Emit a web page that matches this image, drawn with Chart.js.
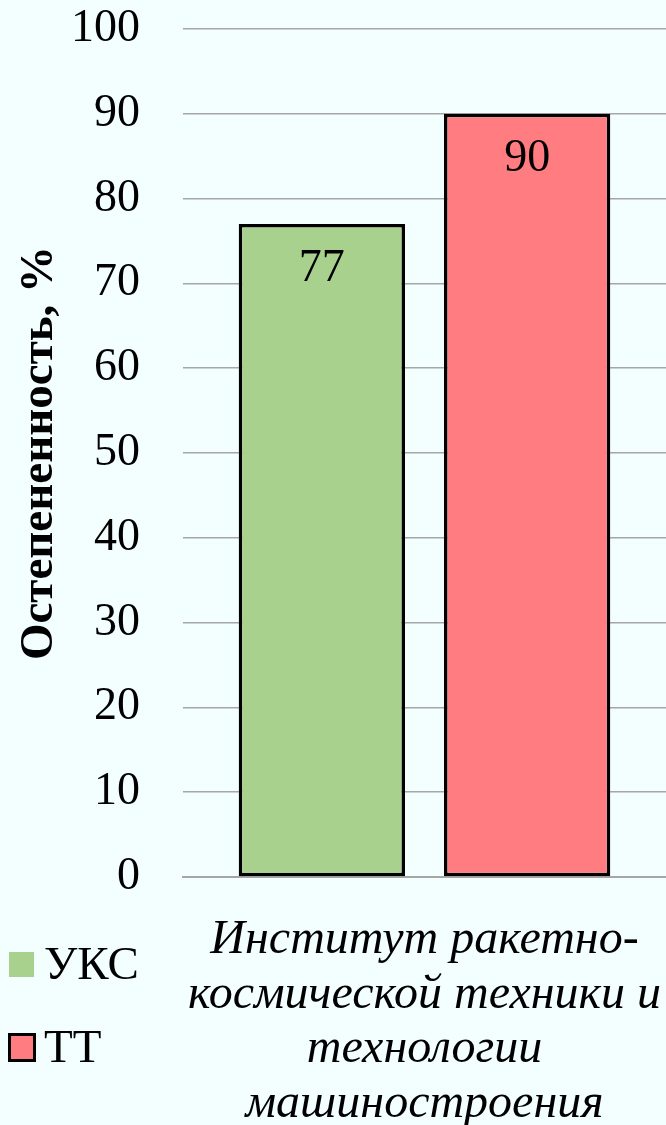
<!DOCTYPE html>
<html lang="ru">
<head>
    <meta charset="UTF-8">
    <title>Остепененность</title>
    <script src="https://cdn.jsdelivr.net/npm/chart.js"></script>
    <style>
        html, body { margin: 0; padding: 0; background: #F3FFFF; }
        .wrap { position: relative; width: 666px; height: 1125px; }
    </style>
</head>
<body>
    <div class="wrap">
        <canvas id="chart" width="666" height="1125"></canvas>
    </div>
    <script>
        const categories = [['Институт ракетно-', 'космической техники и', 'технологии', 'машиностроения']];
        const seriesNames = ['УКС', 'ТТ'];
        const uksValues = [77];
        const ttValues = [90];
        const yTicks = [0, 10, 20, 30, 40, 50, 60, 70, 80, 90, 100];

        const SERIF = "'Liberation Serif', 'Times New Roman', serif";

        // value labels inside the top of each bar
        const valueLabels = {
            id: 'valueLabels',
            afterDatasetsDraw(chart) {
                const ctx = chart.ctx;
                ctx.save();
                ctx.font = '46px ' + SERIF;
                ctx.fillStyle = '#000';
                ctx.textAlign = 'center';
                ctx.textBaseline = 'middle';
                chart.data.datasets.forEach((ds, i) => {
                    chart.getDatasetMeta(i).data.forEach((bar, j) => {
                        ctx.fillText(String(ds.data[j]), bar.x, bar.y + 45);
                    });
                });
                ctx.restore();
            }
        };

        // legend in the lower left corner
        const cornerLegend = {
            id: 'cornerLegend',
            afterDraw(chart) {
                const ctx = chart.ctx;
                ctx.save();
                ctx.font = '47px ' + SERIF;
                ctx.textBaseline = 'middle';
                chart.data.datasets.forEach((ds, i) => {
                    const y = 964 + i * 83;
                    ctx.fillStyle = ds.backgroundColor;
                    ctx.fillRect(9, y - 12, 25, 25);
                    if (i === 1) {
                        ctx.lineWidth = 3;
                        ctx.strokeStyle = '#000';
                        ctx.strokeRect(9.5, y - 12.5, 25, 26);
                    }
                    ctx.fillStyle = '#000';
                    ctx.fillText(ds.label, 44, y + 3);
                });
                ctx.restore();
            }
        };

        new Chart(document.getElementById('chart'), {
            type: 'bar',
            data: {
                labels: categories,
                datasets: [{
                    label: seriesNames[0],
                    data: uksValues,
                    backgroundColor: '#A9D18E',
                    borderColor: '#000',
                    borderWidth: 3.5,
                    borderSkipped: false
                }, {
                    label: seriesNames[1],
                    data: ttValues,
                    backgroundColor: '#FF7C80',
                    borderColor: '#000',
                    borderWidth: 3.5,
                    borderSkipped: false
                }]
            },
            options: {
                responsive: false,
                animation: false,
                layout: { padding: { top: 29, right: -7, bottom: 0, left: 0 } },
                datasets: {
                    bar: { categoryPercentage: 0.85, barPercentage: 0.81 }
                },
                plugins: {
                    legend: { display: false },
                    tooltip: { enabled: false }
                },
                scales: {
                    x: {
                        grid: { display: false, drawTicks: false },
                        border: { color: '#A6A6A6', width: 2 },
                        ticks: {
                            color: '#000',
                            font: { family: SERIF, size: 48, style: 'italic', lineHeight: 1.14 },
                            padding: 36,
                            maxRotation: 0
                        },
                        afterFit(scale) {
                            scale.height = 1125 - 877;
                            scale.paddingLeft = 0;
                            scale.paddingRight = 0;
                        }
                    },
                    y: {
                        min: 0,
                        max: 100,
                        afterBuildTicks(scale) { scale.ticks = yTicks.map(v => ({ value: v })); },
                        grid: { color: '#A6A6A6', lineWidth: 1.5, drawTicks: false },
                        border: { display: false },
                        ticks: {
                            color: '#000',
                            font: { family: SERIF, size: 46 },
                            padding: 43
                        },
                        title: {
                            display: true,
                            text: 'Остепененность, %',
                            color: '#000',
                            font: { family: SERIF, size: 47, weight: 'bold', lineHeight: 1 },
                            padding: { top: 16, bottom: 0 }
                        },
                        afterFit(scale) {
                            scale.width = 183;
                            scale.paddingTop = 0;
                            scale.paddingBottom = 0;
                        }
                    }
                }
            },
            plugins: [valueLabels, cornerLegend]
        });
    </script>
</body>
</html>
